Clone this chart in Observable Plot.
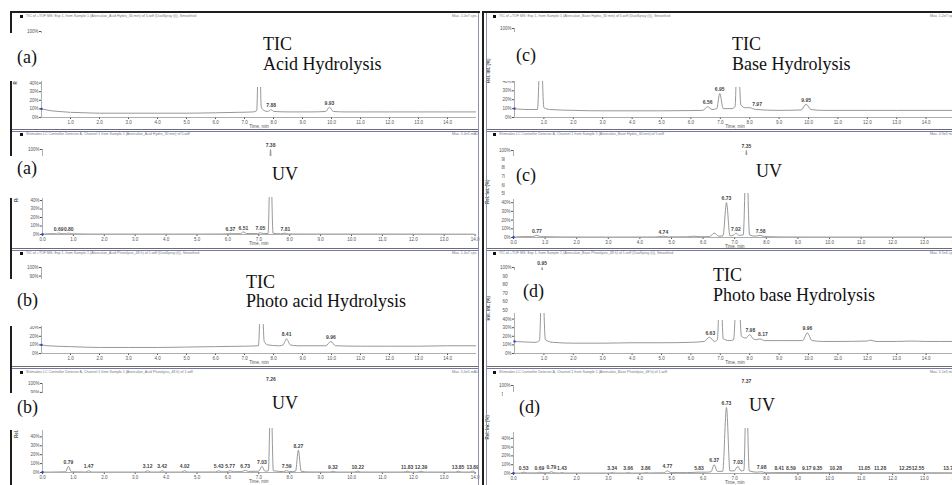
<!DOCTYPE html>
<html><head><meta charset="utf-8">
<script src="https://cdn.jsdelivr.net/npm/d3@7"></script>
<script src="https://cdn.jsdelivr.net/npm/@observablehq/plot@0.6"></script>
<style>
html,body{margin:0;padding:0;background:#fff;}
#fig{position:relative;width:952px;height:485px;overflow:hidden;background:#fff;}
.panel{position:absolute;}
.box{position:absolute;background:#fff;}
.lbl{position:absolute;font-family:"Liberation Serif","Times New Roman",serif;font-size:18px;line-height:18px;color:#111;white-space:nowrap;}
.hdr{position:absolute;font-family:"Liberation Sans",Arial,sans-serif;font-size:3.6px;line-height:4px;color:#777;white-space:nowrap;}
.ln{position:absolute;}
</style></head><body><div id="fig"></div>
<script>
// ---------- data (time in min, intensity in %) ----------
const ticA_trace = [[0,10],[0.08,9.5],[0.3,8],[0.6,7],[1,6],[1.5,5.5],[2,5],[3,5],[4,5],[5,5],[6,5.5],[6.8,6],[7.3,6.5],[7.42,8],[7.5,100],[7.58,12],[7.68,8],[7.8,7],[7.92,9],[8.02,7],[8.5,6.5],[9.3,6.5],[9.8,7],[9.93,12],[10.06,7],[10.5,6.5],[11,6.5],[12,6.5],[13,6.5],[14,6.5],[15,6.5]];
const ticA_labels = [[7.92,9,"7.88"],[9.93,12,"9.93"]];

const uvA_trace = [[0,0.3],[0.3,1],[0.45,0.8],[0.52,1.8],[0.6,0.9],[0.78,0.9],[0.85,1.8],[0.92,0.8],[1.5,0.5],[3,0.5],[5,0.5],[5.8,0.6],[6.0,0.8],[6.08,1.5],[6.16,0.9],[6.4,1],[6.5,3],[6.6,1.2],[6.95,1],[7.05,2],[7.15,1],[7.3,1.2],[7.38,100],[7.46,1.5],[7.7,0.8],[7.86,1.6],[7.95,0.6],[9,0.5],[11,0.5],[14,0.4]];
const uvA_labels = [[0.52,1.8,"0.69"],[0.85,1.8,"0.80"],[6.08,1.5,"6.37"],[6.5,3,"6.51"],[7.05,2,"7.05"],[7.38,100,"7.38"],[7.86,1.6,"7.81"]];

const ticB_trace = [[0,10],[0.2,9],[1,8],[2,7],[3,7],[4,7],[5,7.5],[6,8],[7,8.5],[7.48,9],[7.58,88],[7.68,14],[7.8,10],[8.2,9],[8.33,10],[8.45,17],[8.58,10],[8.8,9],[9.8,9],[9.98,14],[10.14,9],[11,8.5],[12,8.5],[13,8.5],[14,9],[15,9]];
const ticB_labels = [[8.45,17,"8.41"],[9.98,14,"9.96"]];

const uvB_trace = [[0,0.4],[0.5,0.6],[0.75,0.8],[0.84,7],[0.93,0.8],[1.4,0.5],[1.49,2],[1.58,0.5],[3.3,0.5],[3.4,2],[3.5,0.5],[3.78,0.5],[3.87,2],[3.96,0.5],[4.5,0.5],[4.6,2],[4.7,0.5],[5.6,0.6],[5.7,2],[5.8,0.7],[5.97,0.8],[6.07,2],[6.17,0.8],[6.46,1],[6.56,2.5],[6.66,1.2],[7.0,1.5],[7.1,7],[7.2,1.5],[7.31,2],[7.39,98],[7.47,2],[7.8,1],[7.9,2],[8.0,1],[8.19,1.5],[8.28,25],[8.37,1.5],[8.6,0.6],[9.3,0.5],[9.4,1.5],[9.5,0.5],[10.1,0.5],[10.2,1.5],[10.3,0.5],[11.7,0.5],[11.8,1.5],[11.9,0.5],[12.15,0.5],[12.25,1.5],[12.35,0.5],[13.37,0.5],[13.45,1.5],[13.55,0.5],[13.84,0.5],[13.92,1.5],[14,0.5]];
const uvB_labels = [[0.84,7,"0.79"],[1.49,2,"1.47"],[3.4,2,"3.12"],[3.87,2,"3.42"],[4.6,2,"4.02"],[5.7,2,"5.43"],[6.07,2,"5.77"],[6.56,2.5,"6.73"],[7.1,7,"7.03"],[7.39,100,"7.26"],[7.9,2,"7.59"],[8.28,25,"8.27"],[9.4,1.5,"9.32"],[10.2,1.5,"10.22"],[11.8,1.5,"11.83"],[12.25,1.5,"12.39"],[13.45,1.5,"13.85"],[13.92,1.5,"13.89"]];

const ticC_trace = [[0,10],[0.1,9.5],[0.5,9],[0.78,9],[0.89,90],[1.0,11],[1.2,9],[2,8],[3,7.5],[4,7.5],[5,7.5],[6,7.8],[6.4,8],[6.57,12],[6.72,9],[6.88,10],[6.98,27],[7.1,10],[7.4,10],[7.5,12],[7.59,90],[7.7,14],[7.85,11],[8.0,11],[8.2,9],[9,8],[9.75,8.5],[9.92,15],[10.08,9],[10.5,8],[11,8],[12,8],[13,8],[14,8],[15,8]];
const ticC_labels = [[6.57,12,"6.56"],[6.98,27,"6.95"],[8.25,10,"7.97"],[9.92,15,"9.95"]];

const uvC_trace = [[0,0.3],[0.3,1],[0.6,1],[0.74,2.5],[0.85,1],[1.5,0.6],[3,0.5],[4.5,0.6],[4.74,1.5],[4.9,0.7],[5.5,0.8],[5.7,1.5],[5.9,0.9],[6.2,1],[6.35,5],[6.5,1.5],[6.63,2],[6.74,40],[6.85,2],[6.95,2.5],[7.04,5],[7.14,2.5],[7.27,3],[7.37,100],[7.47,3],[7.65,1.5],[7.8,2.5],[7.95,1],[8.5,0.6],[10,0.5],[14,0.5]];
const uvC_labels = [[0.74,2.5,"0.77"],[4.74,1.5,"4.74"],[6.74,40,"6.73"],[7.04,5,"7.02"],[7.37,100,"7.35"],[7.82,2.5,"7.58"]];

const ticD_trace = [[0,14],[0.3,13.5],[0.7,13],[0.85,15],[0.94,100],[1.05,16],[1.3,13],[2,12],[3,12],[4,12.5],[5,12.5],[6,13],[6.45,14],[6.63,19],[6.8,14],[6.9,16],[7.0,100],[7.1,17],[7.3,15],[7.45,16],[7.59,100],[7.72,20],[7.87,18],[8.0,22],[8.12,17],[8.22,16],[8.35,17],[8.5,15],[9,15],[9.8,15],[9.96,24],[10.12,15],[10.5,14],[11,14],[12,14.5],[12.1,15.5],[12.3,14],[13,14],[13.5,14.5],[14,14],[15,14]];
const ticD_labels = [[0.94,100,"0.95"],[6.66,19,"6.63"],[8.02,22,"7.98"],[8.45,17,"8.17"],[9.96,24,"9.96"]];

const uvD_trace = [[0,0.4],[0.22,0.5],[0.32,1.5],[0.42,0.6],[0.75,0.7],[0.82,1.5],[0.9,0.8],[1.1,0.8],[1.2,2],[1.3,0.7],[1.45,0.5],[1.53,1],[1.62,0.5],[3.03,0.5],[3.12,1],[3.22,0.5],[3.55,0.5],[3.63,1],[3.72,0.5],[4.1,0.5],[4.18,1],[4.27,0.6],[4.75,0.8],[4.87,3],[4.98,1],[5.5,1],[5.87,1.5],[6.1,1.5],[6.25,2],[6.35,10],[6.45,2.5],[6.62,2.5],[6.74,75],[6.85,3],[6.98,3],[7.1,8],[7.2,3],[7.29,3.5],[7.37,98],[7.46,3],[7.7,1.5],[7.85,2],[8.0,0.8],[8.41,1],[8.78,1],[9.28,1],[9.62,1],[10.2,1],[11.1,0.8],[11.6,0.8],[12.4,0.8],[12.8,0.8],[13.8,0.8],[14,0.7]];
const uvD_labels = [[0.32,1.5,"0.53"],[0.82,1.5,"0.69"],[1.2,2,"0.79"],[1.53,1,"1.43"],[3.12,1,"3.34"],[3.63,1,"3.66"],[4.18,1,"3.86"],[4.87,3,"4.77"],[5.87,1.5,"5.83"],[6.35,10,"6.37"],[6.74,75,"6.73"],[7.1,8,"7.03"],[7.37,100,"7.37"],[7.85,2,"7.98"],[8.41,1,"8.41"],[8.78,1,"8.59"],[9.28,1,"9.17"],[9.62,1,"9.35"],[10.2,1,"10.28"],[11.1,0.8,"11.05"],[11.6,0.8,"11.28"],[12.4,0.8,"12.25"],[12.8,0.8,"12.55"],[13.8,0.8,"13.75"]];

const ticXTicks = [1,2,3,4,5,6,7,8,9,10,11,12,13,14];
const uvXTicks = [0,1,2,3,4,5,6,7,8,9,10,11,12,13,14];
const yTicksAll = [0,10,20,30,40,50,60,70,80,90,100];
const yTicksLow = [0,10,20,30,40,100];
const yTicksLowTop = [0,10,20,30,90,100];
const yTicksLow90 = [0,10,20,30,40,90,100];

// ---------- layout ----------
const fig = document.getElementById("fig");
const panels = [
  {trace:ticA_trace, labels:ticA_labels, ticks:ticXTicks, yt:yTicksLow, left:12, top:12, h:118, x0:41, ppm:29, dom:[0,15], y100:31, y0:117},
  {trace:uvA_trace, labels:uvA_labels, ticks:uvXTicks, yt:yTicksLow, left:12, top:131, h:118, x0:42, ppm:30.9, dom:[0,14], y100:149, y0:234},
  {trace:ticB_trace, labels:ticB_labels, ticks:ticXTicks, yt:yTicksLowTop, left:12, top:250, h:117, x0:41, ppm:29, dom:[0,15], y100:267, y0:353},
  {trace:uvB_trace, labels:uvB_labels, ticks:uvXTicks, yt:yTicksLow90, left:12, top:368, h:117, x0:42, ppm:30.9, dom:[0,14], y100:383, y0:472},
  {trace:ticC_trace, labels:ticC_labels, ticks:ticXTicks, yt:yTicksLow, left:486, top:12, h:118, x0:514, ppm:29.4, dom:[0,15], y100:28, y0:117},
  {trace:uvC_trace, labels:uvC_labels, ticks:uvXTicks, yt:yTicksAll, left:486, top:131, h:118, x0:513, ppm:31.6, dom:[0,14], y100:150, y0:237},
  {trace:ticD_trace, labels:ticD_labels, ticks:ticXTicks, yt:yTicksAll, left:486, top:250, h:117, x0:514, ppm:29.4, dom:[0,15], y100:267, y0:353},
  {trace:uvD_trace, labels:uvD_labels, ticks:uvXTicks, yt:yTicksLow90, left:486, top:368, h:117, x0:513, ppm:31.6, dom:[0,14], y100:385, y0:473}
];

panels.forEach(p => {
  const x1 = p.x0 + p.ppm*(p.dom[1]-p.dom[0]);
  const width = Math.round(x1 + 5 - p.left);
  const height = p.h;
  const svg = Plot.plot({
    width, height,
    marginLeft: p.x0 - p.left,
    marginRight: p.left + width - x1,
    marginTop: p.y100 - p.top,
    marginBottom: p.top + height - p.y0,
    style: {fontSize:"4.5px", fontFamily:"Liberation Sans, Arial, sans-serif", color:"#555", background:"transparent", overflow:"visible"},
    x: {domain:p.dom, ticks:p.ticks, tickFormat:d=>d.toFixed(1), tickSize:2, tickPadding:1, label:null},
    y: {domain:[0,100], ticks:p.yt, tickFormat:d=>d+"%", tickSize:2, tickPadding:1, label:null},
    marks: [
      Plot.ruleY([0], {stroke:"#999", strokeWidth:0.8}),
      Plot.ruleX([p.dom[0]], {stroke:"#999", strokeWidth:0.8}),
      Plot.lineY(p.trace, {x:d=>d[0], y:d=>d[1], stroke:"#8c8c8c", strokeWidth:0.9, curve:"monotone-x", clip:true}),
      Plot.dot([p.trace[0]], {x:d=>d[0], y:d=>d[1], symbol:"square", r:1.2, fill:"#2b43c4"}),
      Plot.text(p.labels, {x:d=>d[0], y:d=>d[1], text:d=>d[2], dy:-4, fontSize:5, fontWeight:"bold", fill:"#444"}),
      Plot.text(["Time, min"], {frameAnchor:"bottom", dy:10, fontSize:4.5, fill:"#555"}),
      Plot.text(["Rel. Int. (%)"], {frameAnchor:"left", rotate:-90, dx:-26, dy:10, fontSize:4.5, fill:"#555", fontWeight:"bold"})
    ]
  });
  svg.classList.add("panel");
  svg.style.left = p.left + "px";
  svg.style.top = p.top + "px";
  fig.appendChild(svg);
});

// window frames
function line(x,y,w,h,c){const d=document.createElement("div");d.className="ln";Object.assign(d.style,{left:x+"px",top:y+"px",width:w+"px",height:h+"px",background:c});fig.appendChild(d);}
line(10,11,470,2,"#1e1e1e");
line(10,11,2,474,"#1e1e1e");
line(478,13,1,472,"#8e93ad");
line(482,11,470,2,"#1e1e1e");
line(482,11,2,474,"#1e1e1e");
line(486,13,1,472,"#8e93ad");
[130,249,367].forEach(y=>{line(12,y-1,466,1,"#6d6d6d");line(12,y+1,466,1,"#7478a8");line(487,y-1,465,1,"#6d6d6d");line(487,y+1,465,1,"#7478a8");});

// header strips
const headers = [
  [20,16,"TIC of +TOF MS: Exp 1, from Sample 1 (Ateecalan_Acid Hydro_30 min) of 5.wiff (DuoSpray (t)), Smoothed","Max. 1.0e7 cps."],
  [20,134,"Shimadzu LC Controller Detector A, Channel 1 from Sample 1 (Ateecalan_Acid Hydro_30 min) of 5.wiff","Max. 5.4e5 mAU"],
  [20,253,"TIC of +TOF MS: Exp 1, from Sample 1 (Ateecalan_Acid Photolysis_48 h) of 1.wiff (DuoSpray (t)), Smoothed","Max. 1.4e7 cps."],
  [20,372,"Shimadzu LC Controller Detector A, Channel 1 from Sample 1 (Ateecalan_Acid Photolysis_48 h) of 1.wiff","Max. 5.0e5 mAU"],
  [493,16,"TIC of +TOF MS: Exp 1, from Sample 1 (Ateecalan_Base Hydro_30 min) of 5.wiff (DuoSpray (t)), Smoothed","Max. 1.2e7 cps."],
  [493,134,"Shimadzu LC Controller Detector A, Channel 1 from Sample 1 (Ateecalan_Base Hydro_30 min) of 5.wiff","Max. 4.9e5 mAU"],
  [493,253,"TIC of +TOF MS: Exp 1, from Sample 1 (Ateecalan_Base Photolysis_48 h) of 1.wiff (DuoSpray (t)), Smoothed","Max. 9.5e6 cps."],
  [493,372,"Shimadzu LC Controller Detector A, Channel 1 from Sample 1 (Ateecalan_Base Photolysis_48 h) of 1.wiff","Max. 5.1e5 mAU"]
];
headers.forEach(([x,y,t,m])=>{
  line(x,y-1.5,3,3,"#111");
  const d=document.createElement("div");d.className="hdr";d.textContent=t;d.style.left=(x+6)+"px";d.style.top=(y-2)+"px";fig.appendChild(d);
  const e=document.createElement("div");e.className="hdr";e.textContent=m;e.style.left=(x<480?452:930)+"px";e.style.top=(y-2)+"px";fig.appendChild(e);
});

// white label boxes pasted over the chromatograms
const boxes = [
  [0,33,74,81],[250,26,402,87],
  [0,156,74,198],[228,156,368,197],
  [0,279,76,326],[232,268,428,324],
  [0,393,76,430],[232,384,372,428],
  [493,32,582,81],[725,26,880,87],
  [505,156,608,199],[736,155,846,193],
  [508,270,578,313],[705,264,882,320],
  [503,392,582,432],[737,384,848,428]
];
boxes.forEach(([x0,y0,x1,y1])=>{const d=document.createElement("div");d.className="box";Object.assign(d.style,{left:x0+"px",top:y0+"px",width:(x1-x0)+"px",height:(y1-y0)+"px"});fig.appendChild(d);});

const texts = [
  ["(a)",17,57],["TIC",263,44],["Acid Hydrolysis",263,64],
  ["(a)",17,168],["UV",272,174],
  ["(b)",17,300],["TIC",246,282],["Photo acid Hydrolysis",246,301],
  ["(b)",17,407],["UV",272,403],
  ["(c)",516,55],["TIC",732,44],["Base Hydrolysis",732,64],
  ["(c)",516,175],["UV",756,171],
  ["(d)",523,291],["TIC",713,275],["Photo base Hydrolysis",713,295],
  ["(d)",519,407],["UV",749,405]
];
texts.forEach(([t,x,y])=>{const d=document.createElement("div");d.className="lbl";d.textContent=t;d.style.left=x+"px";d.style.top=(y-9)+"px";fig.appendChild(d);});
</script></body></html>
